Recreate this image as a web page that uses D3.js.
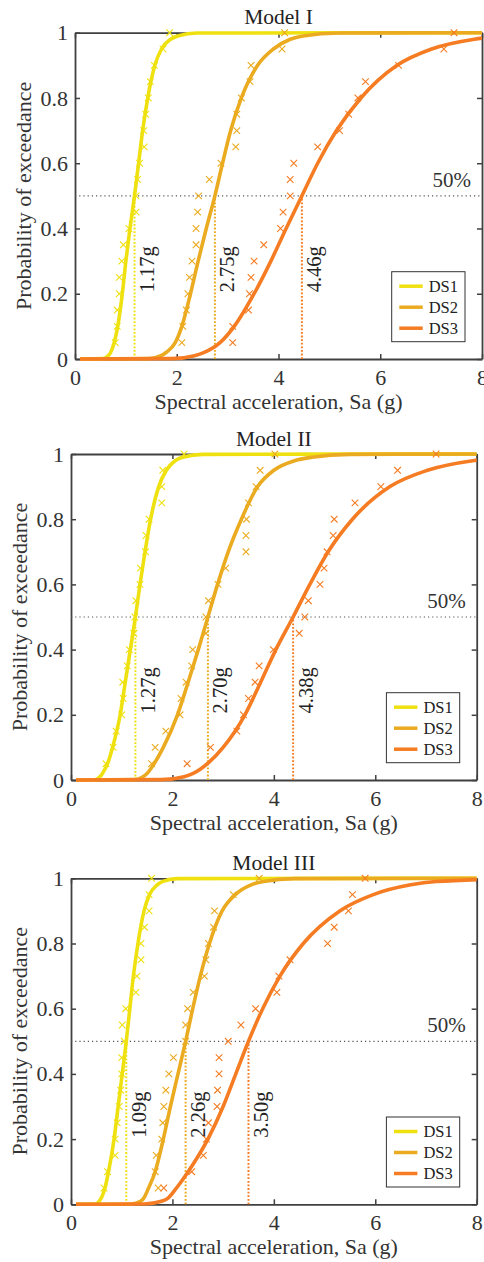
<!DOCTYPE html>
<html>
<head>
<meta charset="utf-8">
<script src="https://cdn.jsdelivr.net/npm/d3@7"></script>
<style>
  body { margin: 0; background: #fff; }
  svg { display: block; font-family: "Liberation Serif", "Times New Roman", serif; }
</style>
</head>
<body>
<svg id="chart" width="484" height="1262"></svg>
<script>
// ---- data ----
const modelNames = ["Model I", "Model II", "Model III"];
const dsNames = ["DS1", "DS2", "DS3"];
const xTicks = [0, 2, 4, 6, 8];
const yTicks = [0, 0.2, 0.4, 0.6, 0.8, 1];

// median Sa (g) of each damage state, per model
const medians = [
  [1.17, 2.75, 4.46],
  [1.27, 2.70, 4.38],
  [1.09, 2.26, 3.50]
];

// probability levels at which the fitted curves were read
const curveProb = [0.001, 0.01, 0.02, 0.05, 0.1, 0.2, 0.3, 0.4, 0.5, 0.6, 0.7, 0.8, 0.9, 0.95, 0.98, 0.99, 0.999];

// Sa of each fitted curve at those levels
const curvesModelI = [
  [0.55, 0.65, 0.70, 0.77, 0.84, 0.93, 1.00, 1.08, 1.17, 1.25, 1.33, 1.43, 1.57, 1.70, 1.88, 2.02, 2.40],
  [1.45, 1.69, 1.79, 1.97, 2.10, 2.27, 2.42, 2.58, 2.75, 2.90, 3.06, 3.27, 3.59, 3.90, 4.23, 4.48, 5.20],
  [1.91, 2.35, 2.54, 2.85, 3.13, 3.52, 3.85, 4.15, 4.46, 4.77, 5.14, 5.62, 6.33, 7.01, 7.85, 8.46, 10.4]
];
const curvesModelII = [
  [0.47, 0.57, 0.62, 0.72, 0.82, 0.97, 1.07, 1.17, 1.27, 1.36, 1.46, 1.57, 1.73, 1.88, 2.06, 2.20, 2.60],
  [1.25, 1.42, 1.50, 1.64, 1.82, 2.10, 2.31, 2.51, 2.70, 2.89, 3.10, 3.36, 3.68, 4.00, 4.42, 4.75, 5.50],
  [1.79, 2.23, 2.41, 2.69, 3.00, 3.43, 3.74, 4.04, 4.38, 4.71, 5.07, 5.55, 6.29, 7.03, 7.95, 8.60, 10.7]
];
const curvesModelIII = [
  [0.47, 0.56, 0.60, 0.67, 0.74, 0.85, 0.93, 1.01, 1.09, 1.16, 1.23, 1.32, 1.44, 1.55, 1.70, 1.80, 2.10],
  [1.18, 1.38, 1.44, 1.53, 1.66, 1.82, 1.96, 2.11, 2.26, 2.40, 2.55, 2.73, 2.98, 3.24, 3.55, 3.80, 4.40],
  [1.45, 1.80, 1.92, 2.08, 2.31, 2.70, 3.00, 3.25, 3.50, 3.78, 4.12, 4.58, 5.30, 5.96, 6.70, 7.20, 8.80]
];

// empirical points: probability levels and Sa of each point
const markProb = [0.05, 0.10, 0.15, 0.20, 0.25, 0.30, 0.35, 0.40, 0.45, 0.50,
                  0.55, 0.60, 0.65, 0.70, 0.75, 0.80, 0.85, 0.90, 0.95, 1.00];
const marksModelI = [
  [0.79, 0.83, 0.83, 0.87, 0.87, 0.92, 0.95, 1.06, 1.20, 1.20, 1.23, 1.27, 1.36, 1.35, 1.39, 1.44, 1.48, 1.56, 1.73, 1.86],
  [2.10, 2.12, 2.19, 2.22, 2.25, 2.30, 2.38, 2.38, 2.41, 2.43, 2.64, 2.87, 3.16, 3.18, 3.18, 3.27, 3.44, 3.46, 4.07, 4.12],
  [3.10, 3.10, 3.41, 3.43, 3.46, 3.52, 3.71, 4.04, 4.09, 4.23, 4.23, 4.30, 4.77, 5.20, 5.38, 5.56, 5.71, 6.36, 7.25, 7.45]
];
const marksModelII = [
  [0.69, 0.83, 0.89, 1.00, 1.03, 1.02, 1.11, 1.15, 1.24, 1.26, 1.28, 1.36, 1.37, 1.47, 1.48, 1.54, 1.79, 1.79, 1.81, 2.23],
  [1.59, 1.66, 1.87, 2.15, 2.17, 2.27, 2.38, 2.40, 2.66, 2.66, 2.71, 2.90, 3.05, 3.45, 3.45, 3.46, 3.50, 3.65, 3.73, 4.02],
  [2.29, 2.75, 3.27, 3.40, 3.50, 3.63, 3.71, 3.99, 4.50, 4.61, 4.68, 4.91, 4.99, 5.05, 5.17, 5.19, 5.60, 6.11, 6.44, 7.20]
];
const marksModelIII = [
  [0.65, 0.72, 0.87, 0.87, 0.91, 0.95, 0.98, 1.00, 1.00, 1.05, 1.01, 1.08, 1.28, 1.30, 1.38, 1.38, 1.45, 1.54, 1.54, 1.59],
  [1.72, 1.66, 1.68, 1.79, 1.81, 1.83, 1.87, 1.93, 2.02, 2.26, 2.26, 2.30, 2.41, 2.63, 2.66, 2.71, 2.81, 2.83, 3.20, 3.71],
  [1.83, 2.38, 2.61, 2.67, 2.71, 2.88, 2.89, 2.92, 2.92, 3.10, 3.35, 3.64, 4.06, 4.10, 4.32, 5.06, 5.19, 5.47, 5.55, 5.80]
];

const curves = [curvesModelI, curvesModelII, curvesModelIII];
const marks = [marksModelI, marksModelII, marksModelIII];

// ---- layout / style ----
const colors = ["#efe10f", "#ebab20", "#f57c22"];
const frames = [
  { left: 75, right: 482, top: 32.7, bottom: 359 },
  { left: 71, right: 476.7, top: 454, bottom: 780 },
  { left: 71, right: 476.7, top: 878.3, bottom: 1204.3 }
];
const axisColor = "#404040";
const textColor = "#333";
const serif = '"Liberation Serif", "Times New Roman", serif';

const svg = d3.select("#chart");

function styleAxis(sel) {
  sel.attr("color", axisColor)
    .attr("font-size", 22)
    .attr("font-family", serif);
  sel.select(".domain").attr("stroke-width", 1.8);
  sel.selectAll(".tick line").attr("stroke-width", 1.5);
  sel.selectAll(".tick text").attr("fill", textColor);
}

function drawPanel(i) {
  const box = frames[i];
  const x = d3.scaleLinear().domain([0, 8]).range([box.left, box.right]);
  const y = d3.scaleLinear().domain([0, 1]).range([box.bottom, box.top]);
  const g = svg.append("g");

  const clipId = "plot-clip-" + i;
  svg.append("clipPath").attr("id", clipId)
    .append("rect")
    .attr("x", box.left).attr("y", box.top - 6)
    .attr("width", box.right - box.left)
    .attr("height", box.bottom - box.top + 12);

  // axes box with inward ticks on all sides
  g.append("g").attr("transform", `translate(0,${box.bottom})`)
    .call(d3.axisBottom(x).tickValues(xTicks).tickSizeInner(-5).tickSizeOuter(0).tickPadding(10))
    .call(styleAxis);
  g.append("g").attr("transform", `translate(0,${box.top})`)
    .call(d3.axisTop(x).tickValues(xTicks).tickSizeInner(-5).tickSizeOuter(0).tickFormat(""))
    .call(styleAxis);
  g.append("g").attr("transform", `translate(${box.left},0)`)
    .call(d3.axisLeft(y).tickValues(yTicks).tickSizeInner(-5).tickSizeOuter(0).tickPadding(7)
      .tickFormat(d3.format("~g")))
    .call(styleAxis);
  g.append("g").attr("transform", `translate(${box.right},0)`)
    .call(d3.axisRight(y).tickValues(yTicks).tickSizeInner(-5).tickSizeOuter(0).tickFormat(""))
    .call(styleAxis);

  // 50% reference line
  g.append("line")
    .attr("x1", box.left).attr("x2", box.right)
    .attr("y1", y(0.5)).attr("y2", y(0.5))
    .attr("stroke", "#555").attr("stroke-width", 1.2)
    .attr("stroke-dasharray", "1.2,3");
  g.append("text")
    .attr("x", box.right - 11).attr("y", y(0.5) - 9)
    .attr("text-anchor", "end")
    .attr("font-size", 21).attr("fill", textColor)
    .text("50%");

  // median drop lines and labels
  medians[i].forEach((m, k) => {
    g.append("line")
      .attr("x1", x(m)).attr("x2", x(m))
      .attr("y1", y(0)).attr("y2", y(0.5))
      .attr("stroke", colors[k]).attr("stroke-width", 2)
      .attr("stroke-dasharray", "1.8,1.8");
    g.append("text")
      .attr("transform", `translate(${x(m) + 19.5},${y(0.275)}) rotate(-90)`)
      .attr("text-anchor", "middle")
      .attr("font-size", 20.5).attr("fill", "#222")
      .text(d3.format(".2f")(m) + "g");
  });

  // fitted curves (they run flat at 1 out to the right edge)
  const line = d3.line()
    .x(d => x(d[0]))
    .y(d => y(d[1]))
    .curve(d3.curveMonotoneX);
  curves[i].forEach((xs, k) => {
    const pts = [[0.1, 0]].concat(xs.map((v, j) => [v, curveProb[j]]));
    if (pts[pts.length - 1][0] < 8) pts.push([8, 1]);
    g.append("path")
      .attr("d", line(pts))
      .attr("clip-path", `url(#${clipId})`)
      .attr("fill", "none")
      .attr("stroke", colors[k])
      .attr("stroke-width", 3.6);
  });

  // empirical points
  const cross = "M-3.3,-3.3L3.3,3.3M-3.3,3.3L3.3,-3.3";
  marks[i].forEach((xs, k) => {
    g.append("g").selectAll("path")
      .data(xs.map((v, j) => [v, markProb[j]]))
      .enter()
      .append("path")
      .attr("d", cross)
      .attr("transform", d => `translate(${x(d[0])},${y(d[1])})`)
      .attr("fill", "none")
      .attr("stroke", colors[k])
      .attr("stroke-width", 1.1);
  });

  // titles and axis labels
  const cx = (box.left + box.right) / 2;
  g.append("text")
    .attr("x", cx).attr("y", box.top - 8.5)
    .attr("text-anchor", "middle")
    .attr("font-size", 21.5).attr("fill", "#222")
    .text(modelNames[i]);
  g.append("text")
    .attr("x", cx).attr("y", box.bottom + 50)
    .attr("text-anchor", "middle")
    .attr("font-size", 22).attr("fill", textColor)
    .text("Spectral acceleration, Sa (g)");
  g.append("text")
    .attr("transform", `translate(${box.left - 44},${(box.top + box.bottom) / 2}) rotate(-90)`)
    .attr("text-anchor", "middle")
    .attr("font-size", 22).attr("fill", textColor)
    .text("Probability of exceedance");

  // legend
  const lg = g.append("g")
    .attr("transform", `translate(${box.right - 90.3},${box.bottom - 87.3})`);
  lg.append("rect")
    .attr("width", 73.3).attr("height", 70)
    .attr("fill", "#fff").attr("stroke", "#333").attr("stroke-width", 1);
  dsNames.forEach((name, k) => {
    const ly = 14.5 + k * 21;
    lg.append("line")
      .attr("x1", 7.6).attr("x2", 31)
      .attr("y1", ly).attr("y2", ly)
      .attr("stroke", colors[k]).attr("stroke-width", 3.5);
    lg.append("text")
      .attr("x", 37).attr("y", ly)
      .attr("dy", "0.35em")
      .attr("font-size", 16.5).attr("fill", "#222")
      .text(name);
  });
}

modelNames.forEach((_, i) => drawPanel(i));
</script>
</body>
</html>
